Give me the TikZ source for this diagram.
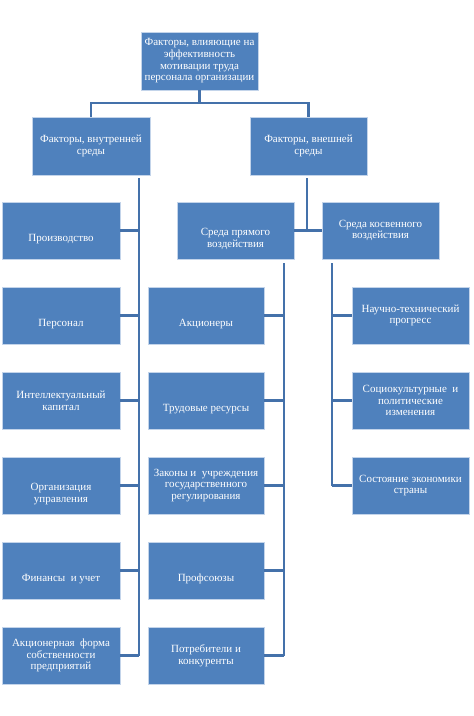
\documentclass[tikz,border=0pt]{standalone}
\usepackage{fontspec}
\setmainfont{Liberation Serif}
\definecolor{boxfill}{HTML}{4F81BD}
\definecolor{boxedge}{HTML}{C3D4EA}
\definecolor{linec}{HTML}{4471AA}
\newcommand{\lowtext}[1]{\raisebox{-9pt}[\height][\depth]{\begin{tabular}{@{}c@{}}#1\end{tabular}}}
\begin{document}
\begin{tikzpicture}[x=1pt,y=-1pt,
  box/.style={rectangle, draw=boxedge, line width=0.8pt, fill=boxfill,
    text=white, align=center, inner sep=1pt,
    font=\rmfamily\fontsize{11}{11.7}\selectfont,
    minimum width=117pt, minimum height=57pt},
  conn/.style={draw=linec, line width=2.6pt}]
\useasboundingbox (0,0) rectangle (474,716);
\fill[white] (0,0) rectangle (474,716);

% top level
\node[box, minimum height=58pt] (top) at (199.5,61) {Факторы, влияющие на\\эффективность\\мотивации труда\\персонала организации};
\node[box, minimum width=118pt, minimum height=58pt] (L0) at (91,146) {Факторы, внутренней\\среды};
\node[box, minimum height=58pt] (R0) at (308.5,146) {Факторы, внешней\\среды};

% left column
\node[box, minimum width=118pt] (L1) at (61,230.5) {\lowtext{Производство}};
\node[box, minimum width=118pt] (L2) at (61,315.5) {\lowtext{Персонал}};
\node[box, minimum width=118pt] (L3) at (61,400.5) {Интеллектуальный\\капитал};
\node[box, minimum width=118pt] (L4) at (61,485.5) {\lowtext{Организация\\управления}};
\node[box, minimum width=118pt] (L5) at (61,570.5) {\lowtext{Финансы~ и учет}};
\node[box, minimum width=118pt] (L6) at (61,655.5) {Акционерная~ форма\\собственности\\предприятий};

% middle column
\node[box] (M0) at (235.5,230.5) {\lowtext{Среда прямого\\воздействия}};
\node[box, minimum width=116pt] (M1) at (206,315.5) {\lowtext{Акционеры}};
\node[box, minimum width=116pt] (M2) at (206,400.5) {\lowtext{Трудовые ресурсы}};
\node[box, minimum width=116pt] (M3) at (206,485.5) {Законы и~ учреждения\\государственного\\регулирования};
\node[box, minimum width=116pt] (M4) at (206,570.5) {\lowtext{Профсоюзы}};
\node[box, minimum width=116pt] (M5) at (206,655.5) {Потребители и\\конкуренты};

% right column
\node[box] (K0) at (380.5,230.5) {Среда косвенного\\воздействия};
\node[box] (K1) at (410.5,315.5) {Научно-технический\\прогресс};
\node[box] (K2) at (410.5,400.5) {Социокультурные~ и\\политические\\изменения};
\node[box] (K3) at (410.5,485.5) {Состояние экономики\\страны};

% helper coordinates
\coordinate (bus) at (0,103);
\coordinate (ltr) at (139,0);
\coordinate (rtr) at (307,0);
\coordinate (mtr) at (284,0);
\coordinate (ktr) at (332,0);

% top connectors
\draw[conn] (top.south) -- (top.south |- bus);
\draw[conn] (L0.north) -- (L0.north |- bus) -- (R0.north |- bus) -- (R0.north);

% left trunk
\draw[conn] ([yshift=-3pt]L0.south -| ltr) -- (ltr |- L6.east);
\foreach \n in {L1,L2,L3,L4,L5,L6}
  \draw[conn] (\n.east) -- (\n.east -| ltr);

% external split
\draw[conn] ([yshift=-3pt]R0.south -| rtr) -- (rtr |- M0.east);
\draw[conn] (M0.east) -- (K0.west);

% middle trunk
\draw[conn] ([yshift=-4pt]M0.south -| mtr) -- (mtr |- M5.east);
\foreach \n in {M1,M2,M3,M4,M5}
  \draw[conn] (\n.east) -- (\n.east -| mtr);

% right trunk
\draw[conn] ([yshift=-4pt]K0.south -| ktr) -- (ktr |- K3.west);
\foreach \n in {K1,K2,K3}
  \draw[conn] (\n.west) -- (\n.west -| ktr);
\end{tikzpicture}
\end{document}
